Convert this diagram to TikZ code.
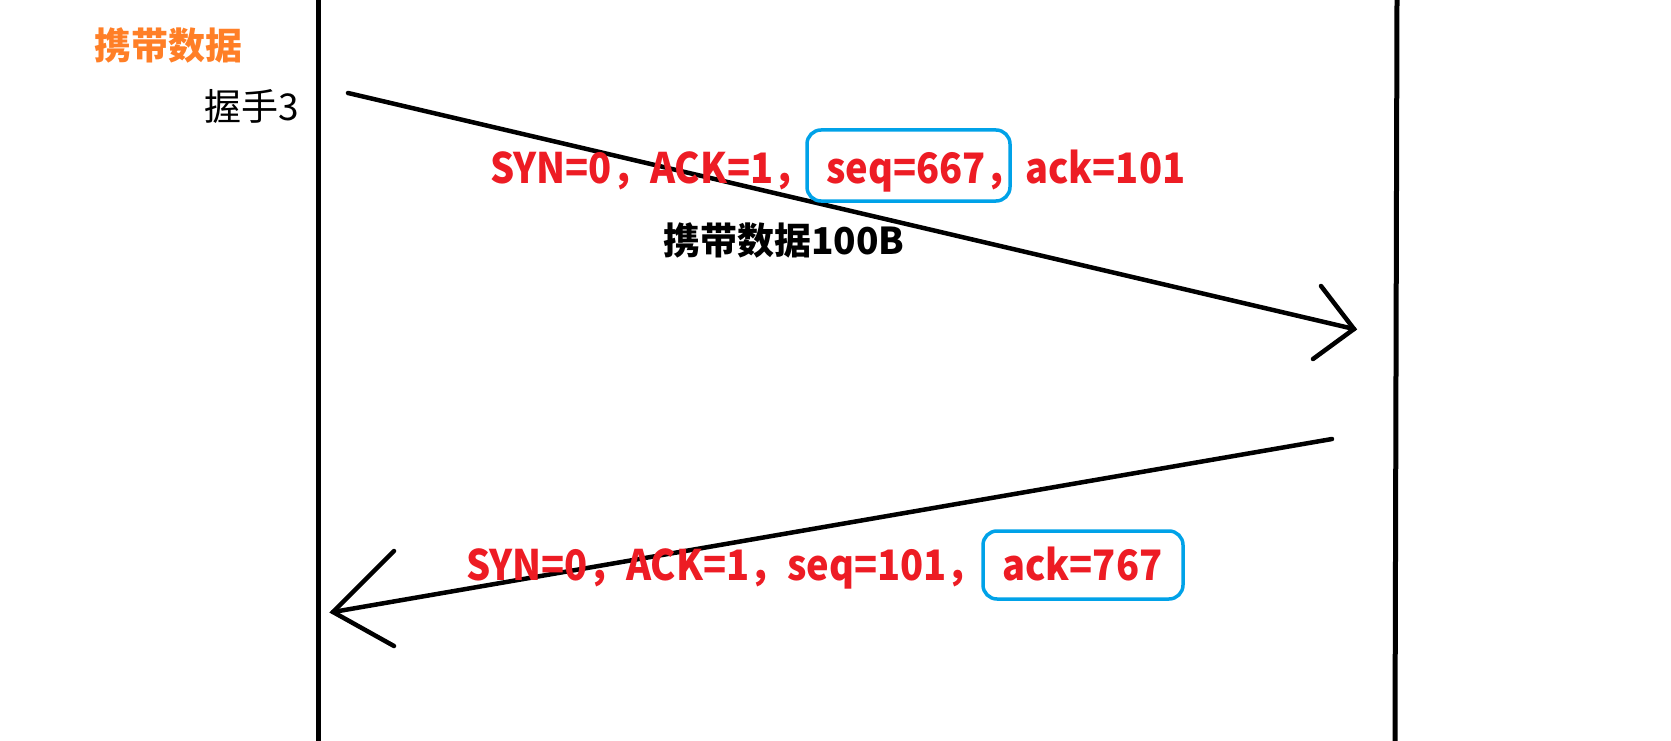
\documentclass[tikz,border=0pt]{standalone}
\usepackage{fontspec}
\newfontfamily\cjk{Noto Sans CJK SC}
\newfontfamily\cjkn[FakeStretch=0.905]{Noto Sans CJK SC}
\definecolor{pred}{HTML}{ED1C24}
\definecolor{porange}{HTML}{FF7F27}
\definecolor{pblue}{HTML}{00A2E8}
\tikzset{
  lifeline/.style={line width=5pt, black},
  msg/.style={line width=4.5pt, black, line cap=round},
  redtxt/.style={font=\cjkn\bfseries\fontsize{42}{50}\selectfont, text=pred, inner sep=0pt},
  blacktxt/.style={font=\cjk\bfseries\fontsize{37}{44}\selectfont, text=black, inner sep=0pt},
  plaintxt/.style={font=\cjk\fontsize{37}{44}\selectfont, text=black, inner sep=0pt},
  orangetxt/.style={font=\cjk\bfseries\fontsize{37}{44}\selectfont, text=porange, inner sep=0pt},
  bluebox/.style={draw=pblue, line width=3.5pt, rounded corners=14pt}
}
\begin{document}
\begin{tikzpicture}[x=1pt,y=-1pt]
\useasboundingbox (0,0) rectangle (1671,741);
% lifelines
\coordinate (Ltop) at (318,0);
\coordinate (Lbot) at (318,741);
\coordinate (Rtop) at (1397,0);
\coordinate (Rbot) at (1395,741);
\draw[lifeline] (Ltop) -- (Lbot);
\draw[lifeline] (Rtop) -- (Rbot);
% labels
\node[orangetxt] (carry) at (168,45) {携带数据};
\node[plaintxt] (hs3) at (252,106) {握手3};
% message 1
\coordinate (m1s) at (348,93);
\coordinate (m1e) at (1354,329);
\coordinate (m1a) at (1321,286);
\coordinate (m1b) at (1313,359);
\draw[msg] (m1s) -- (m1e);
\draw[msg] (m1a) -- (m1e) -- (m1b);
% message 2
\coordinate (m2s) at (1332,439);
\coordinate (m2e) at (333,612);
\coordinate (m2a) at (394,551);
\coordinate (m2b) at (394,646);
\draw[msg] (m2s) -- (m2e);
\draw[msg] (m2a) -- (m2e) -- (m2b);
% text line 1
\node[redtxt, anchor=base west] (t1a) at (490,183) {SYN=0，ACK=1，};
\node[redtxt, anchor=base west] (t1b) at (826,183) {seq=667，};
\node[redtxt, anchor=base west] (t1c) at (1025,183) {ack=101};
\draw[bluebox] (807,130) rectangle (1010,201);
\node[blacktxt] (data) at (784,240) {携带数据100B};
% text line 2
\node[redtxt, anchor=base west] (t2a) at (466,580) {SYN=0，ACK=1，seq=101，};
\node[redtxt, anchor=base west] (t2b) at (1002,580) {ack=767};
\draw[bluebox] (983,531) rectangle (1183,599);
\end{tikzpicture}
\end{document}
